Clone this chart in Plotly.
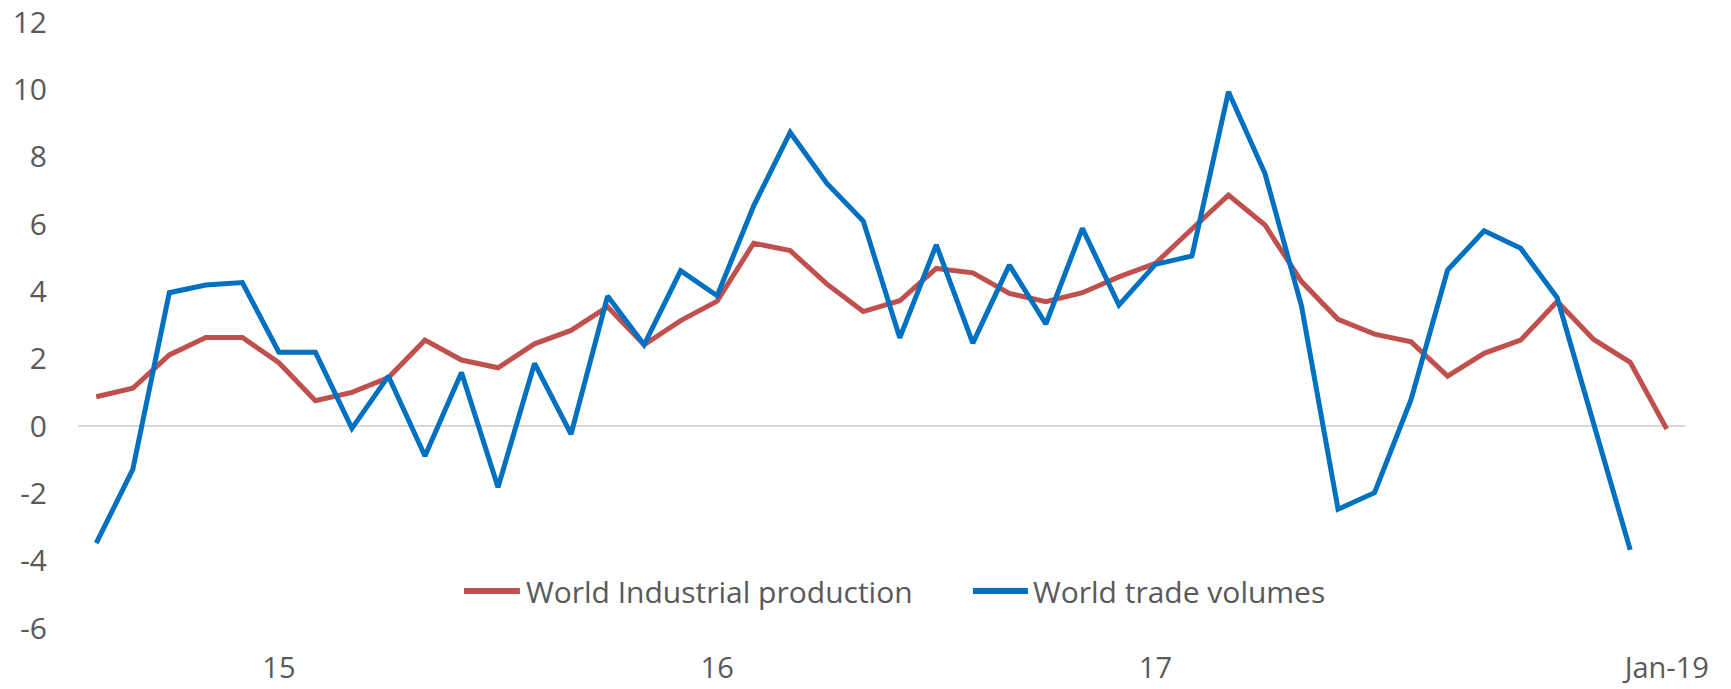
import plotly.graph_objects as go

# Monthly growth rates (% y/y)
series_names = ["World Industrial production", "World trade volumes"]

industrial_production = [
    0.87, 1.12, 2.11, 2.63, 2.63, 1.88, 0.75, 1.00, 1.44, 2.55,
    1.96, 1.73, 2.44, 2.84, 3.54, 2.41, 3.13, 3.71, 5.43, 5.21,
    4.22, 3.40, 3.72, 4.68, 4.55, 3.94, 3.69, 3.96, 4.43, 4.83,
    5.85, 6.86, 5.97, 4.29, 3.17, 2.73, 2.50, 1.48, 2.16, 2.55,
    3.70, 2.57, 1.89, -0.09,
]

trade_volumes = [
    -3.48, -1.29, 3.96, 4.19, 4.26, 2.19, 2.19, -0.07, 1.48, -0.89,
    1.59, -1.82, 1.86, -0.24, 3.86, 2.41, 4.61, 3.87, 6.54, 8.72,
    7.21, 6.09, 2.62, 5.38, 2.46, 4.78, 3.03, 5.87, 3.59, 4.80,
    5.05, 9.93, 7.50, 3.56, -2.47, -1.98, 0.79, 4.63, 5.80, 5.28,
    3.81, 0.05, -3.68,
]

x_tick_positions = [5, 17, 29, 43]
x_tick_labels = ["15", "16", "17", "Jan-19"]

y_tick_values = [-6, -4, -2, 0, 2, 4, 6, 8, 10, 12]
y_tick_labels = ["-6", "-4", "-2", "0", "2", "4", "6", "8", "10", "12"]

colors = ["#C0504D", "#0070C0"]
text_color = "#595959"
font_family = "Open Sans, Noto Sans, sans-serif"
font_size = 30
line_width = 5

fig = go.Figure()
for name, values, color in zip(series_names, [industrial_production, trade_volumes], colors):
    fig.add_trace(go.Scatter(
        x=list(range(len(values))),
        y=values,
        mode="lines",
        name=name,
        line=dict(color=color, width=line_width),
        showlegend=False,
    ))

# Legend drawn inside the plot area, horizontal, near the bottom
legend_y = 0.061  # paper units
legend_items = [
    (0.2402, 0.2750, 0.2775),  # line start, line end, text start
    (0.5569, 0.5911, 0.5930),
]
for (x0, x1, xt), name, color in zip(legend_items, series_names, colors):
    fig.add_shape(type="line", xref="paper", yref="paper",
                  x0=x0, x1=x1, y0=legend_y, y1=legend_y,
                  line=dict(color=color, width=line_width + 1))
    fig.add_annotation(xref="paper", yref="paper", x=xt, y=legend_y,
                       xanchor="left", yanchor="middle", showarrow=False,
                       text=name, font=dict(family=font_family, size=font_size, color=text_color))

fig.update_layout(
    width=1731,
    height=689,
    autosize=False,
    margin=dict(l=78, r=46, t=22, b=61),
    paper_bgcolor="white",
    plot_bgcolor="white",
    font=dict(family=font_family, size=font_size, color=text_color),
    xaxis=dict(
        range=[-0.5, 43.5],
        tickmode="array",
        tickvals=x_tick_positions,
        ticktext=x_tick_labels,
        showgrid=False,
        showline=False,
        zeroline=False,
        ticks="",
        ticklabelstandoff=20,
        tickfont=dict(size=29),
        automargin=False,
    ),
    yaxis=dict(
        range=[-6, 12],
        tickmode="array",
        tickvals=y_tick_values,
        ticktext=y_tick_labels,
        showgrid=False,
        showline=False,
        zeroline=True,
        zerolinecolor="#D9D9D9",
        zerolinewidth=1.5,
        ticks="",
        ticklabelstandoff=30,
        automargin=False,
    ),
)

fig.write_html("out.html")
